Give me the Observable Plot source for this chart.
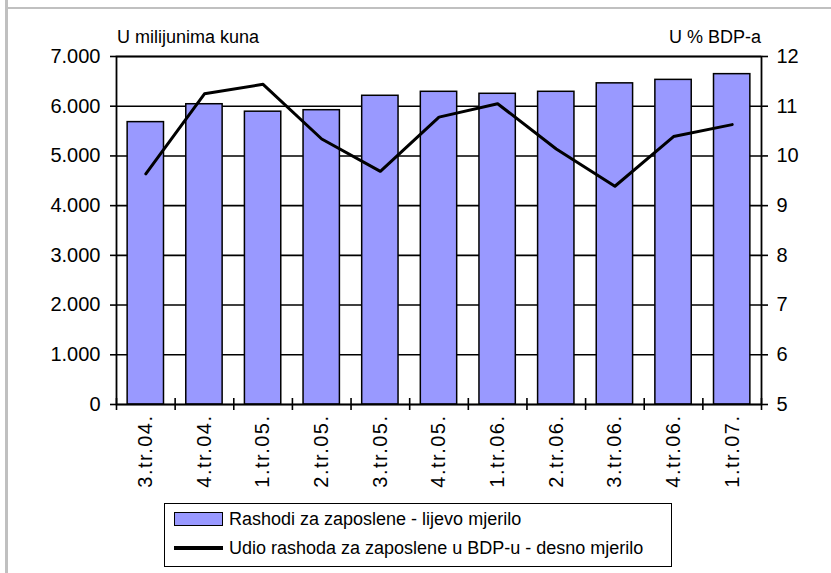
<!DOCTYPE html>
<html>
<head>
<meta charset="utf-8">
<script src="https://cdn.jsdelivr.net/npm/d3@7"></script>
<script src="https://cdn.jsdelivr.net/npm/@observablehq/plot@0.6"></script>
<style>
  html, body { margin: 0; padding: 0; background: #fff; }
  #wrap { position: relative; width: 831px; height: 573px; overflow: hidden; font-family: "Liberation Sans", Arial, sans-serif; color: #000; }
  .edgeL { position: absolute; left: 5px; top: 0; width: 2.5px; height: 573px; background: #c0c0c0; }
  .edgeT { position: absolute; left: 5px; top: 6.5px; width: 826px; height: 2.5px; background: #c0c0c0; }
  #chart { position: absolute; left: 0; top: 0; }
  #chart g[aria-label="x-axis tick label"] text { letter-spacing: 1.5px; }
  .unit { position: absolute; top: 27px; font-size: 18px; line-height: 20px; white-space: nowrap; }
  #legend { position: absolute; left: 164px; top: 503px; width: 506px; height: 62px; border: 1.5px solid #000; background: #fff; }
  .row { position: absolute; left: 0; height: 24px; display: flex; align-items: center; font-size: 18px; white-space: nowrap; }
  .sw { width: 49px; margin-left: 9px; margin-right: 6px; box-sizing: border-box; }
</style>
</head>
<body>
<div id="wrap">
  <div class="edgeL"></div>
  <div class="edgeT"></div>
  <div id="chart"></div>
  <div class="unit" id="unitL" style="left:117px"></div>
  <div class="unit" id="unitR" style="right:70px"></div>
  <div id="legend"></div>
</div>
<script>
// ---- data ----
const categories = ["3.tr.04.", "4.tr.04.", "1.tr.05.", "2.tr.05.", "3.tr.05.", "4.tr.05.", "1.tr.06.", "2.tr.06.", "3.tr.06.", "4.tr.06.", "1.tr.07."];
const rashodi = [5680, 6040, 5890, 5920, 6210, 6290, 6250, 6290, 6460, 6530, 6645]; // u milijunima kuna
const udio = [9.64, 11.25, 11.44, 10.34, 9.69, 10.78, 11.05, 10.14, 9.39, 10.39, 10.63]; // u % BDP-a
const leftTicks = [0, 1000, 2000, 3000, 4000, 5000, 6000, 7000];
const rightTicks = [5, 6, 7, 8, 9, 10, 11, 12];
const seriesNames = ["Rashodi za zaposlene - lijevo mjerilo", "Udio rashoda za zaposlene u BDP-u - desno mjerilo"];
const unitLeft = "U milijunima kuna";
const unitRight = "U % BDP-a";
const barColor = "#9999ff";

// ---- build ----
const rows = categories.map((c, i) => ({i, c, r: rashodi[i], u: udio[i]}));
const toLeft = d3.scaleLinear().domain(d3.extent(rightTicks)).range(d3.extent(leftTicks));
const fmtLeft = d => d3.format(",")(d).replace(/,/g, ".");
const n = categories.length;

const chart = Plot.plot({
  width: 831,
  height: 500,
  marginLeft: 116,
  marginRight: 70,
  marginTop: 56,
  marginBottom: 96,
  x: {domain: [0, n], axis: null},
  y: {domain: d3.extent(leftTicks), axis: null},
  style: {fontFamily: "'Liberation Sans', Arial, sans-serif", fontSize: "20px", color: "#000", background: "transparent"},
  marks: [
    Plot.ruleY(leftTicks, {stroke: "#000", strokeWidth: 1.6}),
    Plot.rectY(rows, {x1: d => d.i + 0.19, x2: d => d.i + 0.81, y1: 0, y2: "r", fill: barColor, stroke: "#000", strokeWidth: 1.5}),
    Plot.line(rows, {x: d => d.i + 0.5, y: d => toLeft(d.u), stroke: "#000", strokeWidth: 3}),
    Plot.frame({stroke: "#000", strokeWidth: 1.8}),
    Plot.axisY({anchor: "left", ticks: leftTicks, tickFormat: fmtLeft, tickSize: 6, tickPadding: 10, label: null, strokeWidth: 1.6, fontSize: 20}),
    Plot.axisY({anchor: "right", ticks: leftTicks, tickFormat: d => String(Math.round(toLeft.invert(d))), tickSize: 6, tickPadding: 9, label: null, strokeWidth: 1.6, fontSize: 20}),
    Plot.axisX({ticks: d3.range(n + 1), tickFormat: () => "", tickSize: 6, label: null, strokeWidth: 1.6}),
    Plot.axisX({ticks: d3.range(n + 1), tickFormat: () => "", tickSize: -6, label: null, strokeWidth: 1.6}),
    Plot.axisX({ticks: rows.map(d => d.i + 0.5), tickFormat: d => categories[Math.floor(d)], tickSize: 0, tickPadding: 10, tickRotate: -90, label: null, fontSize: 20})
  ]
});
document.getElementById("chart").appendChild(chart);
document.getElementById("unitL").textContent = unitLeft;
document.getElementById("unitR").textContent = unitRight;

// ---- legend ----
const legend = document.getElementById("legend");
seriesNames.forEach((name, k) => {
  const row = document.createElement("div");
  row.className = "row";
  row.style.top = (k === 0 ? 3 : 32) + "px";
  const sw = document.createElement("div");
  sw.className = "sw";
  if (k === 0) {
    sw.style.height = "14px";
    sw.style.background = barColor;
    sw.style.border = "1.5px solid #000";
  } else {
    sw.style.height = "3.5px";
    sw.style.background = "#000";
  }
  const t = document.createElement("span");
  t.textContent = name;
  row.appendChild(sw);
  row.appendChild(t);
  legend.appendChild(row);
});
</script>
</body>
</html>
